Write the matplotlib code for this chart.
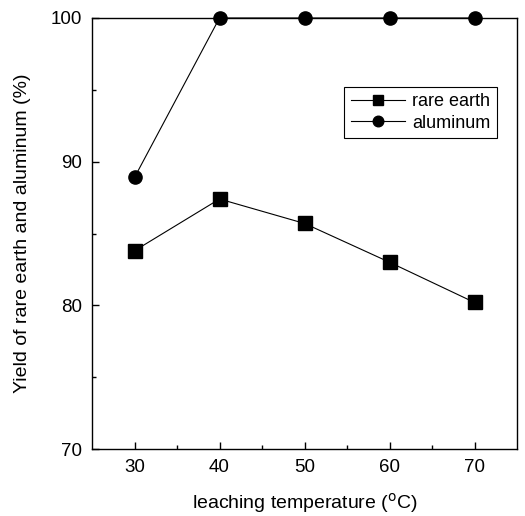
import matplotlib
matplotlib.use("Agg")
import matplotlib.pyplot as plt

plt.rcParams['font.family'] = ['Liberation Sans', 'DejaVu Sans']

temperature = [30, 40, 50, 60, 70]
rare_earth = [83.8, 87.4, 85.7, 83.0, 80.2]
aluminum = [88.9, 100, 100, 100, 100]

fig = plt.figure(figsize=(5.25, 5.16), dpi=100)
ax = fig.add_axes([92/525, 1 - 449/516, (517-92)/525, (449-18)/516])

ax.plot(temperature, rare_earth, color='black', lw=0.8, marker='s', ms=9.5,
        label='rare earth', clip_on=False)
ax.plot(temperature, aluminum, color='black', lw=0.8, marker='o', ms=9.5,
        label='aluminum', clip_on=False)

ax.set_xlim(25, 75)
ax.set_ylim(70, 100)
ax.set_xticks(temperature)
ax.set_xticks([35, 45, 55, 65], minor=True)
ax.set_yticks([70, 80, 90, 100])
ax.set_yticks([75, 85, 95], minor=True)
ax.tick_params(direction='in', length=5, width=1, labelsize=13.5, pad=7)
ax.tick_params(which='minor', direction='in', length=3, width=1)
for s in ax.spines.values():
    s.set_linewidth(1)

ax.set_xlabel('leaching temperature ($^{\\rm o}$C)', fontsize=14, labelpad=11)
ax.set_ylabel('Yield of rare earth and aluminum (%)', fontsize=14, labelpad=14)

leg = ax.legend(loc='upper right', bbox_to_anchor=(0.952, 0.84), fontsize=13,
                fancybox=False, framealpha=1, edgecolor='black',
                handlelength=3.0, handletextpad=0.4, borderpad=0.35,
                borderaxespad=0, labelspacing=0.25, markerscale=0.8)
leg.get_frame().set_linewidth(0.8)

fig.savefig('out.png', dpi=100)
